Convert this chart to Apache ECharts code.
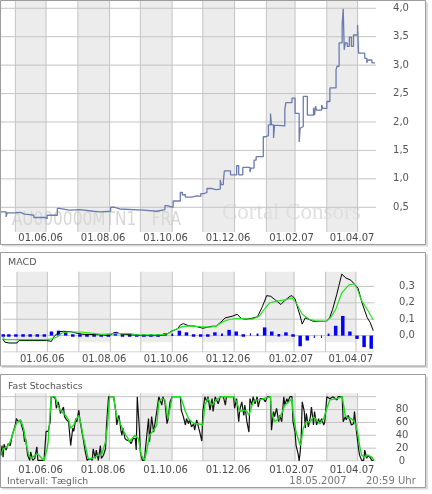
<!DOCTYPE html>
<html>
<head>
<meta charset="utf-8">
<script src="https://cdn.jsdelivr.net/npm/echarts@6/dist/echarts.min.js"></script>
<style>
html, body { margin: 0; padding: 0; background: #fff; }
#chart { width: 432px; height: 494px; }
</style>
</head>
<body>
<div id="chart"></div>
<script>
// x-Achse: Tage seit 18.05.2006
const DAY = 86400000;
const startDate = Date.UTC(2006, 4, 18);
const lastDay = 366;

// Kurs (Stufenlinie)
const priceDays = [0, 5, 6, 14, 19, 23, 28, 32, 43, 45, 55, 57, 67, 77, 90, 97, 107, 111, 116, 139,
  152, 160, 162, 168, 175, 177, 180, 186, 191, 195, 198, 201, 206, 210, 214, 215, 217, 218, 224, 230,
  232, 236, 243, 244, 247, 249, 256, 258, 261, 263, 264, 266, 267, 270, 277, 278, 284, 287, 291, 292,
  293, 295, 299, 305, 306, 307, 308, 313, 314, 318, 321, 327, 328, 330, 333, 334, 335, 336, 338, 340,
  342, 344, 348, 349, 355, 357, 358, 362, 365];
const priceVals = [0.42, 0.33, 0.40, 0.41, 0.38, 0.37, 0.36, 0.32, 0.30, 0.36, 0.48, 0.45, 0.46, 0.43, 0.42, 0.43, 0.50, 0.47, 0.45, 0.43,
  0.46, 0.53, 0.50, 0.61, 0.76, 0.72, 0.68, 0.70, 0.69, 0.74, 0.76, 0.83, 0.81, 0.82, 0.98, 0.90, 0.95, 1.14, 1.07, 1.23,
  1.07, 1.20, 1.12, 1.19, 1.33, 1.39, 1.74, 1.76, 1.95, 2.15, 1.95, 1.72, 1.94, 1.93, 2.21, 2.34, 2.42, 2.15, 1.65, 1.89,
  1.92, 2.45, 2.12, 2.25, 2.12, 2.28, 2.21, 2.30, 2.24, 2.36, 2.60, 2.92, 2.98, 3.39, 3.71, 3.99, 3.27, 3.39, 3.33, 3.49,
  3.33, 3.53, 3.71, 3.21, 3.12, 3.04, 3.09, 3.04, 3.03];

// MACD-Linie (schwarz)
const macdDays = [0, 2, 6, 14, 16, 43, 48, 50, 53, 56, 60, 67, 72, 79, 97, 105, 109, 112, 116, 126,
  136, 155, 162, 167, 172, 175, 178, 183, 190, 197, 201, 206, 210, 214, 219, 226, 231, 235, 239, 245,
  251, 256, 260, 264, 268, 274, 278, 283, 285, 288, 291, 293, 295, 298, 302, 306, 319, 322, 325, 329,
  331, 334, 338, 343, 347, 350, 354, 359, 362, 365];
const macdVals = [-0.02, -0.04, -0.045, -0.045, -0.03, -0.03, -0.035, -0.01, 0.01, 0.025, 0.026, 0.024, 0.016, 0.008, 0.005, 0.0, 0.015, 0.02, 0.01, 0.005,
  0.0, 0.0, 0.01, 0.03, 0.04, 0.065, 0.073, 0.06, 0.057, 0.045, 0.05, 0.057, 0.057, 0.077, 0.108, 0.118, 0.13, 0.105, 0.1, 0.105,
  0.115, 0.18, 0.244, 0.24, 0.22, 0.19, 0.215, 0.24, 0.244, 0.224, 0.16, 0.12, 0.07, 0.108, 0.098, 0.087, 0.087, 0.108, 0.16, 0.25,
  0.30, 0.375, 0.352, 0.338, 0.31, 0.29, 0.2, 0.11, 0.08, 0.03];

// Signallinie (gruen)
const signalDays = [0, 2, 43, 48, 53, 58, 63, 77, 87, 97, 111, 126, 131, 155, 163, 170, 177, 185, 194, 204,
  210, 217, 224, 233, 246, 253, 257, 263, 270, 279, 285, 290, 295, 302, 308, 319, 323, 328, 334, 341,
  346, 349, 353, 360, 365];
const signalVals = [-0.01, -0.024, -0.024, -0.02, -0.01, 0.015, 0.022, 0.022, 0.015, 0.008, 0.012, 0.012, 0.005, 0.005, 0.012, 0.037, 0.055, 0.06, 0.055, 0.052,
  0.057, 0.085, 0.1, 0.105, 0.1, 0.12, 0.155, 0.2, 0.21, 0.22, 0.23, 0.19, 0.13, 0.1, 0.09, 0.087, 0.11, 0.16, 0.26, 0.31,
  0.315, 0.29, 0.22, 0.15, 0.095];

// Histogramm (wochenweise)
const histDays = [0.5, 6, 13, 20, 27, 34, 41, 48, 55, 62, 69, 76, 83, 90, 97, 104, 111, 118, 125, 132,
  139, 146, 153, 160, 167, 174, 181, 188, 195, 202, 209, 216, 223, 230, 237, 244, 251, 258, 265, 272,
  279, 286, 293, 300, 307, 314, 321, 328, 335, 342, 349, 356, 363];
const histVals = [0, 0, 0, 0, 0, 0, 0, 0.025, 0.03, 0.02, 0, 0, 0, 0, 0, 0, 0.02, 0, 0, 0,
  0, 0, 0, 0.016, 0.01, 0.03, 0.02, 0, 0, 0, 0.02, 0.01, 0.035, 0.025, 0, 0.015, 0.01, 0.05, 0.025, 0.005,
  0.02, 0, -0.065, -0.03, -0.015, -0.015, 0.01, 0.06, 0.12, 0.025, -0.02, -0.07, -0.08];

// Fast Stochastics %K (schwarz)
const stochKDays = [0, 1, 2, 3, 5, 7, 9, 11, 14, 15, 17, 19, 20, 22, 23, 24, 26, 28, 29, 31,
  33, 35, 36, 42, 44, 46, 48, 49, 51, 53, 54, 56, 58, 59, 61, 62, 64, 66, 67, 68,
  70, 71, 73, 74, 76, 77, 79, 80, 82, 84, 85, 87, 89, 90, 92, 93, 95, 97, 98, 100,
  102, 103, 104, 105, 110, 112, 113, 115, 116, 117, 118, 119, 121, 123, 124, 125, 127, 129, 131, 132,
  133, 135, 136, 138, 140, 141, 143, 144, 145, 147, 149, 150, 152, 154, 155, 157, 158, 160, 162, 163,
  165, 167, 175, 176, 178, 180, 181, 183, 184, 186, 188, 189, 191, 193, 194, 196, 197, 199, 201, 202,
  204, 206, 207, 209, 212, 214, 217, 219, 220, 227, 228, 230, 232, 233, 235, 237, 238, 240, 241, 242,
  243, 245, 246, 248, 250, 251, 253, 256, 258, 260, 263, 264, 266, 267, 269, 271, 272, 274, 276, 277,
  279, 280, 282, 284, 285, 287, 288, 290, 291, 292, 293, 294, 296, 297, 298, 300, 302, 303, 305, 306,
  308, 310, 311, 313, 315, 316, 318, 321, 324, 328, 329, 333, 334, 336, 337, 339, 341, 342, 344, 345,
  347, 349, 350, 352, 354, 355, 357, 358, 360, 362, 364];
const stochK = [9, 24, 6, 26, 17, 27, 24, 40, 56, 66, 61, 64, 56, 45, 30, 35, 9, 1, 14, 1,
  4, 22, 1, 1, 46, 46, 61, 100, 100, 97, 82, 92, 74, 77, 84, 69, 64, 61, 61, 24,
  51, 46, 66, 61, 79, 64, 45, 37, 17, 1, 1, 4, 1, 19, 4, 17, 1, 24, 4, 9,
  19, 56, 79, 100, 100, 77, 56, 71, 61, 48, 40, 51, 35, 32, 30, 32, 27, 35, 35, 17,
  100, 51, 14, 1, 1, 19, 51, 66, 30, 69, 45, 56, 77, 100, 100, 87, 100, 92, 58, 64,
  92, 100, 100, 79, 69, 56, 66, 58, 64, 53, 58, 48, 64, 51, 45, 31, 77, 100, 92, 100,
  79, 97, 77, 100, 89, 100, 100, 87, 100, 100, 82, 97, 61, 79, 92, 71, 87, 61, 58, 45,
  97, 87, 100, 89, 100, 84, 97, 97, 92, 100, 100, 48, 77, 69, 82, 61, 71, 61, 100, 87,
  97, 92, 100, 100, 61, 45, 24, 11, 0, 14, 37, 92, 77, 51, 74, 53, 69, 84, 56, 77,
  56, 66, 58, 66, 56, 61, 100, 97, 100, 95, 100, 100, 61, 69, 64, 71, 61, 56, 58, 77,
  45, 19, 9, 1, 1, 17, 4, 9, 6, 1, 1];

// Fast Stochastics %D (gruen)
const stochDDays = [0, 2, 6, 9, 12, 15, 19, 22, 24, 27, 30, 33, 36, 40, 42, 45, 46, 48, 49, 53,
  55, 58, 61, 63, 66, 68, 71, 73, 76, 78, 80, 83, 85, 89, 92, 95, 98, 102, 104, 106,
  110, 111, 113, 115, 117, 120, 122, 124, 125, 128, 131, 134, 137, 140, 142, 145, 149, 152, 154, 157,
  160, 163, 165, 167, 175, 177, 180, 183, 186, 189, 193, 197, 199, 202, 206, 210, 215, 227, 230, 233,
  237, 240, 242, 243, 246, 250, 253, 256, 263, 264, 267, 271, 274, 277, 281, 284, 285, 288, 292, 293,
  295, 298, 302, 305, 308, 311, 315, 318, 321, 328, 333, 336, 339, 342, 345, 348, 350, 352, 355, 358,
  362, 364];
const stochD = [9, 19, 22, 30, 45, 58, 64, 51, 32, 9, 4, 9, 11, 4, 1, 19, 30, 77, 100, 100,
  87, 79, 74, 71, 64, 51, 56, 64, 71, 58, 40, 19, 4, 4, 6, 9, 9, 30, 56, 100,
  100, 87, 69, 64, 56, 45, 40, 35, 30, 35, 40, 35, 9, 1, 14, 40, 48, 56, 92, 97,
  95, 66, 82, 100, 100, 92, 77, 66, 61, 58, 58, 56, 87, 97, 87, 95, 100, 100, 92, 77,
  79, 77, 71, 77, 92, 95, 95, 97, 100, 77, 61, 66, 74, 87, 92, 97, 77, 45, 24, 30,
  51, 61, 61, 69, 64, 58, 66, 82, 95, 97, 100, 71, 66, 66, 61, 45, 24, 9, 6, 9,
  6, 1];

// Achsenwerte mit Gitterlinie / Beschriftung
const priceTicks = [0.5, 1, 1.5, 2, 2.5, 3, 3.5, 4];
const macdTicks = [-0.1, 0, 0.1, 0.2, 0.3];
const macdLabels = [0, 0.1, 0.2, 0.3];
const stochTicks = [0, 20, 40, 60, 80, 100];
const stochLabels = [0, 20, 40, 60, 80];

// Monatsanfaenge Jun 06 .. Mai 07, graue Monate jeder zweite
const monthStarts = [];
for (let m = 5; m <= 16; m++) monthStarts.push(Date.UTC(2006, m, 1));
const bandRanges = [];
for (let i = 0; i < 11; i += 2) bandRanges.push([monthStarts[i], monthStarts[i + 1]]);

const toTime = d => startDate + d * DAY;
const pair = (xs, ys) => xs.map((x, i) => [toTime(x), ys[i]]);
const pad = n => (n < 10 ? '0' : '') + n;
// nur der Erste jedes zweiten Monats wird beschriftet
const fmtDate = v => {
  const d = new Date(v);
  if (d.getUTCDate() !== 1 || d.getUTCHours() !== 0 || d.getUTCMonth() % 2 === 0) return '';
  return pad(d.getUTCDate()) + '.' + pad(d.getUTCMonth() + 1) + '.' + String(d.getUTCFullYear()).slice(2);
};
const only = (list, fmt) => v => (list.some(t => Math.abs(t - v) < 1e-6) ? fmt(v) : '');
const fmtComma = v => v.toFixed(1).replace('.', ',');

const FONT = 'DejaVu Sans';
const GRID_LINE = '#c4c4c4';

function xAxisFor(idx, margin) {
  return {
    type: 'time', gridIndex: idx, min: toTime(0), max: toTime(lastDay),
    splitNumber: 12, minInterval: 28 * DAY, maxInterval: 31 * DAY,
    axisLine: { show: false },
    axisTick: { show: false },
    splitLine: { show: false },
    axisLabel: {
      formatter: fmtDate, align: 'left', padding: [0, 0, 0, 3], hideOverlap: false,
      margin: margin, color: '#4a4a4a', fontFamily: FONT, fontSize: 10
    }
  };
}

function yAxisFor(idx, min, max, interval, labelFmt, margin) {
  return {
    type: 'value', gridIndex: idx, position: 'right', min: min, max: max, interval: interval,
    axisLine: { show: false },
    axisTick: { show: false },
    splitLine: { show: false },
    axisLabel: {
      formatter: labelFmt, align: 'center', margin: margin,
      color: '#555', fontFamily: FONT, fontSize: 10
    }
  };
}

// graue Monatsbaender
function bandSeries(idx, floor) {
  return {
    type: 'custom', xAxisIndex: idx, yAxisIndex: idx, z: -2, silent: true,
    data: bandRanges,
    renderItem: (params, api) => {
      const x0 = api.coord([api.value(0), 0])[0];
      const x1 = api.coord([api.value(1), 0])[0];
      const cs = params.coordSys;
      const yb = floor == null ? cs.y + cs.height : api.coord([api.value(0), floor])[1];
      return { type: 'rect', shape: { x: x0, y: cs.y, width: x1 - x0, height: yb - cs.y }, style: { fill: '#ececec' } };
    }
  };
}

// Gitterlinien als kurze Liniensegmente (je eine Serie pro Linie)
function gridLineSeries(idx, yLow, yHigh, yTicks) {
  const seg = pts => ({
    type: 'line', xAxisIndex: idx, yAxisIndex: idx, z: 1, silent: true, symbol: 'none',
    data: pts, lineStyle: { color: GRID_LINE, width: 1 }
  });
  const vert = monthStarts.map(t => seg([[t, yLow], [t, yHigh]]));
  const horiz = yTicks.map(v => seg([[toTime(0), v], [toTime(lastDay), v]]));
  return vert.concat(horiz);
}

function panel(y, h) {
  return [
    { type: 'rect', z: -11, silent: true, shape: { x: 2, y: y + 2, width: 426, height: h }, style: { fill: '#dadada' } },
    { type: 'rect', z: -10, silent: true, shape: { x: 0.5, y: y, width: 425, height: h }, style: { fill: '#fff', stroke: '#9c9c9c', lineWidth: 1 } }
  ];
}

function label(text, x, y, size, color, extra) {
  return Object.assign({
    type: 'text', x: x, y: y, silent: true,
    style: { text: text, fontFamily: FONT, fontSize: size, fill: color, verticalAlign: 'middle' }
  }, extra || {});
}

const chart = echarts.init(document.getElementById('chart'));

chart.setOption({
  animation: false,
  useUTC: true,
  graphic: [].concat(
    panel(0.5, 244),
    panel(252.5, 113.5),
    panel(374.5, 113),
    [
      label('AU000000MTN1', 11.7, 220.5, 19, '#d8d8d8', { z: 1, scaleX: 0.81 }),
      label('FRA', 151.7, 220.5, 19, '#d8d8d8', { z: 1, scaleX: 0.81 }),
      { type: 'text', x: 222, y: 213, z: 1, silent: true,
        style: { text: 'Cortal Consors', fontFamily: 'Liberation Serif', fontSize: 23, fill: '#e0e0e0', verticalAlign: 'middle' } },
      label('MACD', 8, 262.2, 9.5, '#555'),
      label('Fast Stochastics', 8, 386.5, 9.3, '#555'),
      label('Intervall: Tæglich', 7, 481.7, 9.3, '#666'),
      label('18.05.2007', 289.3, 481.7, 10, '#777'),
      label('20:59 Uhr', 366, 481.7, 10, '#777')
    ]
  ),
  grid: [
    { left: 1, top: 1, width: 375, height: 234.7 },
    { left: 1, top: 271.7, width: 375, height: 80.3 },
    { left: 1, top: 393.3, width: 375, height: 67.7 }
  ],
  xAxis: [xAxisFor(0, -2.5), xAxisFor(1, 2), xAxisFor(2, 4)],
  yAxis: [
    yAxisFor(0, 0, 4.128, 0.5, only(priceTicks, fmtComma), 25),
    yAxisFor(1, -0.1, 0.39, 0.1, only(macdLabels, fmtComma), 31),
    yAxisFor(2, 0, 105.3, 20, only(stochLabels, v => String(Math.round(v))), 26)
  ],
  series: [
    bandSeries(0, 0.066),
    bandSeries(1, -0.041),
    bandSeries(2, null)
  ].concat(
    gridLineSeries(0, 0.066, 4.128, priceTicks),
    gridLineSeries(1, -0.1, 0.39, macdTicks),
    gridLineSeries(2, 0, 105.3, stochTicks),
    [
      {
        type: 'line', xAxisIndex: 0, yAxisIndex: 0, step: 'end', symbol: 'none', silent: true,
        data: pair(priceDays, priceVals),
        lineStyle: { color: '#6a7cb0', width: 1.3 }
      },
      {
        type: 'bar', xAxisIndex: 1, yAxisIndex: 1, silent: true, barWidth: 3.5,
        data: pair(histDays, histVals),
        itemStyle: { color: '#0000ff', borderColor: '#0000ff', borderWidth: 2.5 }
      },
      {
        type: 'line', xAxisIndex: 1, yAxisIndex: 1, symbol: 'none', silent: true,
        data: pair(macdDays, macdVals),
        lineStyle: { color: '#000', width: 1 }
      },
      {
        type: 'line', xAxisIndex: 1, yAxisIndex: 1, symbol: 'none', silent: true,
        data: pair(signalDays, signalVals),
        lineStyle: { color: '#22e622', width: 1.2 }
      },
      {
        type: 'line', xAxisIndex: 2, yAxisIndex: 2, symbol: 'none', silent: true,
        data: pair(stochKDays, stochK),
        lineStyle: { color: '#111', width: 1.2 }
      },
      {
        type: 'line', xAxisIndex: 2, yAxisIndex: 2, symbol: 'none', silent: true,
        data: pair(stochDDays, stochD),
        lineStyle: { color: '#1edc1e', width: 1.4 }
      }
    ]
  )
});
</script>
</body>
</html>
